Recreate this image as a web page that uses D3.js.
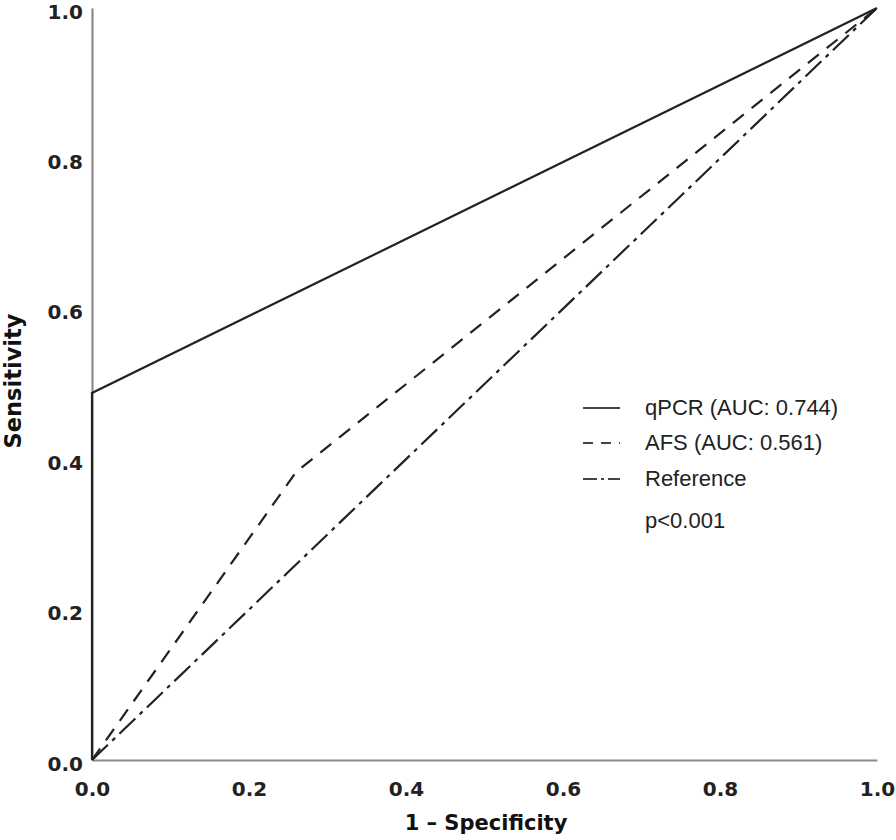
<!DOCTYPE html>
<html><head><meta charset="utf-8">
<script src="https://cdn.jsdelivr.net/npm/d3@7"></script>
<style>body{margin:0;background:#fff}</style>
</head><body>
<svg id="c" width="896" height="840"></svg>
<script>
const xTicks = [0.0, 0.2, 0.4, 0.6, 0.8, 1.0];
const yTicks = [0.0, 0.2, 0.4, 0.6, 0.8, 1.0];
const qpcrFPR = [0, 0, 1];
const qpcrTPR = [0, 0.488, 1];
const afsFPR = [0, 0.26, 1];
const afsTPR = [0, 0.383, 1];
const refFPR = [0, 1];
const refTPR = [0, 1];
const legendLabels = ["qPCR (AUC: 0.744)", "AFS (AUC: 0.561)", "Reference"];
const note = "p<0.001";

const svg = d3.select("#c");
const x = d3.scaleLinear().domain([0,1]).range([92,877]);
const y = d3.scaleLinear().domain([0,1]).range([760,8]);

const tickFont = "DejaVu Sans";
// axes
const xAxis = d3.axisBottom(x).tickValues(xTicks).tickFormat(d3.format(".1f")).tickSize(0).tickPadding(0);
const gx = svg.append("g").attr("transform","translate(0,760)").call(xAxis);
gx.select(".domain").attr("stroke","#8a8a8a").attr("stroke-width",2.2);
gx.selectAll("text").attr("font-family",tickFont).attr("font-weight","bold").attr("font-size",20).attr("fill","#222").attr("dy",null).attr("y",36);

const yAxis = d3.axisLeft(y).tickValues(yTicks).tickFormat(d3.format(".1f")).tickSize(0).tickPadding(0);
const gy = svg.append("g").attr("transform","translate(92,0)").call(yAxis);
gy.select(".domain").attr("stroke","#8a8a8a").attr("stroke-width",2.2);
gy.selectAll("text").attr("font-family",tickFont).attr("font-weight","bold").attr("font-size",20).attr("fill","#222").attr("dy",null).attr("x",-9).attr("y",10);

// titles
svg.append("text").attr("x",486).attr("y",830).attr("text-anchor","middle")
  .attr("font-family",tickFont).attr("font-weight","bold").attr("font-size",21).attr("fill","#111").text("1 \u2013 Specificity");
svg.append("text").attr("transform","translate(21,381) rotate(-90)").attr("text-anchor","middle")
  .attr("font-family",tickFont).attr("font-weight","bold").attr("font-size",22.5).attr("fill","#111").text("Sensitivity");

const line = d3.line().x(d=>x(d[0])).y(d=>y(d[1]));
const series = [
  {fpr: refFPR, tpr: refTPR, dash: "22,6,4,6"},
  {fpr: afsFPR, tpr: afsTPR, dash: "14,10"},
  {fpr: qpcrFPR, tpr: qpcrTPR, dash: null}
];
series.forEach(s => {
  const pts = s.fpr.map((f,i)=>[f, s.tpr[i]]);
  svg.append("path").attr("d", line(pts)).attr("fill","none").attr("stroke","#222")
    .attr("stroke-width",2.2).attr("stroke-dasharray", s.dash).attr("stroke-linejoin","miter");
});

// legend
const legDash = [null, "10,8", "14,4,3,4"];
const legY = [408, 443, 479];
legendLabels.forEach((lab,i)=>{
  svg.append("line").attr("x1",583).attr("x2",620).attr("y1",legY[i]).attr("y2",legY[i])
    .attr("stroke","#444").attr("stroke-width",1.8).attr("stroke-dasharray",legDash[i]);
  svg.append("text").attr("x",645).attr("y",legY[i]+7).attr("font-family","Liberation Sans")
    .attr("font-size",22).attr("fill","#222").text(lab);
});
svg.append("text").attr("x",645).attr("y",528).attr("font-family","Liberation Sans")
  .attr("font-size",22).attr("fill","#222").text(note);
</script>
</body></html>
